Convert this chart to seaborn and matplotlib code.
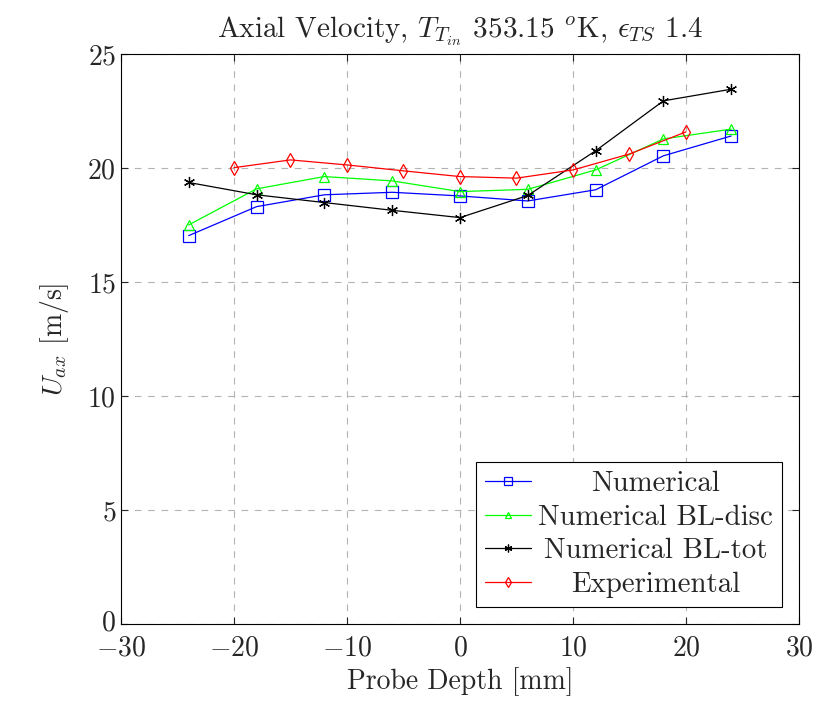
import matplotlib
matplotlib.use("Agg")
import matplotlib.pyplot as plt
import matplotlib.transforms as mtransforms
import seaborn as sns
import pandas as pd

x_num = [-24, -18, -12, -6, 0, 6, 12, 18, 24]
u_numerical = [17.03, 18.3, 18.82, 18.93, 18.77, 18.55, 19.04, 20.53, 21.4]
u_bl_disc = [17.5, 19.08, 19.62, 19.43, 18.96, 19.06, 19.91, 21.27, 21.7]
u_bl_tot = [19.36, 18.82, 18.48, 18.14, 17.82, 18.79, 20.75, 22.94, 23.45]
x_exp = [-20, -15, -10, -5, 0, 5, 10, 15, 20]
u_exp = [20.01, 20.35, 20.13, 19.87, 19.62, 19.55, 19.91, 20.61, 21.58]

labels = ["Numerical", "Numerical BL-disc", "Numerical BL-tot", "Experimental"]
colors = ["#0000ff", "#00ff00", "#000000", "#ff0000"]

sns.set_style("ticks")
plt.rcParams["font.family"] = ["cmr10", "DejaVu Serif"]
plt.rcParams["mathtext.fontset"] = "cm"
plt.rcParams["axes.formatter.use_mathtext"] = True
plt.rcParams["axes.unicode_minus"] = True

FS = 20

fig = plt.figure(figsize=(8.17, 7.09), dpi=100)
ax = fig.add_axes([0.148, 0.12, 0.83, 0.804])

series = [
    (x_num, u_numerical, "s", 8),
    (x_num, u_bl_disc, "^", 7),
    (x_num, u_bl_tot, (6, 2, 0), 8),
    (x_exp, u_exp, "d", 7),
]
for (xs, ys, mk, ms), lab, col in zip(series, labels, colors):
    df = pd.DataFrame({"x": xs, "y": ys})
    sns.lineplot(data=df, x="x", y="y", ax=ax, color=col, marker=mk,
                 markersize=ms, markerfacecolor="none", markeredgecolor=col,
                 markeredgewidth=0.9, linewidth=0.9, label=lab)

ax.set_xlim(-30, 30)
ax.set_ylim(0, 25)
ax.set_xticks([-30, -20, -10, 0, 10, 20, 30])
ax.set_yticks([0, 5, 10, 15, 20, 25])
ax.grid(True, linestyle=(0, (6, 6)), color="#b3b3b3", linewidth=0.8)
ax.tick_params(direction="in", top=True, right=True, labelsize=FS, length=5)
ax.tick_params(axis="x", pad=8)
for s in ax.spines.values():
    s.set_linewidth(0.8)
    s.set_color("black")

ax.set_xlabel("Probe Depth [mm]", fontsize=FS, labelpad=4)
ax.set_ylabel(r"$U_{ax}$ [m/s]", fontsize=FS, labelpad=12)
ax.set_title(r"Axial Velocity, $T_{T_{in}}$ 353.15 $^{o}$K, $\epsilon_{TS}$ 1.4",
             fontsize=21, pad=12)

leg = ax.legend(loc="lower right", fontsize=20.8, frameon=True, fancybox=False,
                edgecolor="black", framealpha=1, handlelength=1.6,
                borderaxespad=0.6, labelspacing=0.25, handletextpad=0.25,
                borderpad=0.3, markerscale=0.7)
leg.get_frame().set_linewidth(0.8)

# center legend texts like pgfplots
fig.canvas.draw()
texts = leg.get_texts()
widths = [t.get_window_extent().width for t in texts]
maxw = max(widths)
for t, w in zip(texts, widths):
    off = (maxw - w) / 2.0
    t.set_transform(t.get_transform() + mtransforms.Affine2D().translate(off, 0))

# nudge the y "0" tick label up slightly so it does not collide with "-30"
ylab0 = ax.get_yticklabels()[0]
ylab0.set_transform(ylab0.get_transform() + mtransforms.Affine2D().translate(0, 4))

fig.savefig("out.png", dpi=100)
